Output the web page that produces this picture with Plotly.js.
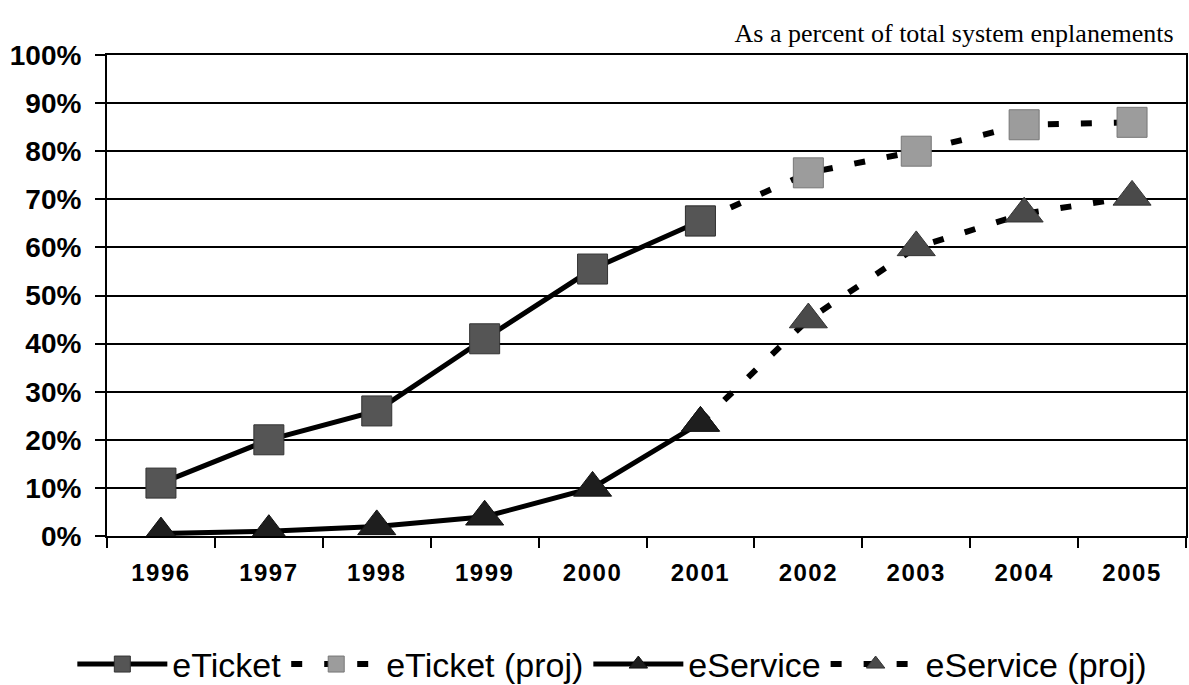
<!DOCTYPE html>
<html><head><meta charset="utf-8">
<script src="https://cdn.plot.ly/plotly-3.0.1.min.js"></script>
<style>body{margin:0;background:#fff}#c{width:1189px;height:685px}
.xtick text{letter-spacing:1.5px}</style>
</head><body><div id="c"></div>
<script>
const years = ['1996','1997','1998','1999','2000','2001','2002','2003','2004','2005'];
const eTicketYears = ['1996','1997','1998','1999','2000','2001'];
const eTicket = [11, 20, 26, 41, 55.5, 65.5];
const eTicketProjYears = ['2001','2002','2003','2004','2005'];
const eTicketProj = [65.5, 75.5, 80, 85.5, 86];
const eServiceYears = ['1996','1997','1998','1999','2000','2001'];
const eService = [0.5, 1, 2, 4, 10, 23.5];
const eServiceProjYears = ['2001','2002','2003','2004','2005'];
const eServiceProj = [23.5, 45, 60, 67, 70.5];
const yTicks = [0,10,20,30,40,50,60,70,80,90,100];

const traces = [
  {x: eTicketProjYears, y: eTicketProj, name: 'eTicket (proj)', mode: 'lines+markers', legendrank: 2,
   line: {color: '#000', width: 6, dash: '11px,22px'},
   marker: {symbol: 'square', size: 30, color: '#9c9c9c', line: {color: '#777', width: 1}}},
  {x: eServiceProjYears, y: eServiceProj, name: 'eService (proj)', mode: 'lines+markers', legendrank: 4,
   line: {color: '#000', width: 6, dash: '11px,22px'},
   marker: {symbol: 'triangle-up', size: 33, color: '#4a4a4a', line: {color: '#333', width: 1}}},
  {x: eTicketYears, y: eTicket, name: 'eTicket', mode: 'lines+markers', legendrank: 1,
   line: {color: '#000', width: 5},
   marker: {symbol: 'square', size: 30, color: '#555', line: {color: '#333', width: 1}}},
  {x: eServiceYears, y: eService, name: 'eService', mode: 'lines+markers', legendrank: 3,
   line: {color: '#000', width: 5},
   marker: {symbol: 'triangle-up', size: 33, color: '#1e1e1e', line: {color: '#111', width: 1}}}
];

const layout = {
  width: 1189, height: 685,
  margin: {l: 107, r: 3, t: 55, b: 149},
  paper_bgcolor: '#fff', plot_bgcolor: '#fff',
  font: {family: 'Liberation Sans, Arial, sans-serif', color: '#000'},
  title: {text: 'As a percent of total system enplanements', x: 0.987, xanchor: 'right', y: 0.952, yanchor: 'middle',
          font: {family: 'Liberation Serif, Times New Roman, serif', size: 26, color: '#000'}},
  xaxis: {type: 'category', categoryorder: 'array', categoryarray: years, range: [-0.5, 9.5],
          showgrid: false, showline: true, linecolor: '#000', linewidth: 2, mirror: true,
          ticks: 'outside', ticklen: 10, tickwidth: 2, tickcolor: '#000', tickson: 'boundaries',
          ticklabelstandoff: 14,
          tickfont: {size: 24, family: 'Liberation Sans, Arial, sans-serif', weight: 'bold'}, zeroline: false, fixedrange: true},
  yaxis: {range: [0, 100], tickvals: yTicks, ticktext: yTicks.map(v => v + '%'),
          showgrid: true, gridcolor: '#000', gridwidth: 2, showline: true, linecolor: '#000', linewidth: 2, mirror: true,
          ticks: 'outside', ticklen: 10, tickwidth: 2, tickcolor: '#000', ticklabelstandoff: 8,
          tickfont: {size: 28, family: 'Liberation Sans, Arial, sans-serif', weight: 'bold'}, zeroline: false, fixedrange: true},
  legend: {orientation: 'h', xref: 'container', yref: 'container', x: 0.515, xanchor: 'center', y: 0.03, yanchor: 'middle',
           font: {size: 34, family: 'Liberation Sans, Arial, sans-serif'}, itemwidth: 90, traceorder: 'normal'},
  showlegend: true
};
Plotly.newPlot('c', traces, layout, {staticPlot: true});
</script></body></html>
